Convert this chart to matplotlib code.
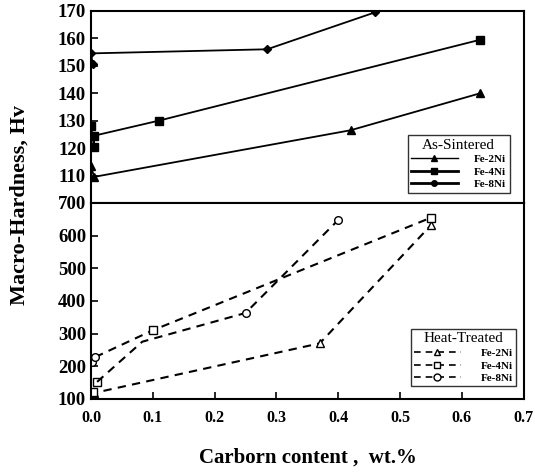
import matplotlib
matplotlib.use("Agg")
import matplotlib.pyplot as plt
from matplotlib.lines import Line2D

plt.rcParams['font.family'] = ['Liberation Serif', 'DejaVu Serif']

# ---- As-Sintered data (top panel) ----
as_2ni_x = [0.0, 0.005, 0.42, 0.63]
as_2ni_y = [113.5, 109.5, 126.5, 140]
as_4ni_x = [0.0, 0.005, 0.005, 0.11, 0.63]
as_4ni_y = [128, 120.5, 124.5, 130, 159.5]
as_8ni_x = [0.003, 0.0, 0.285, 0.46]
as_8ni_y = [150.5, 154.5, 156, 169.5]

# ---- Heat-Treated data (bottom panel) ----
ht_2ni_x = [0.002, 0.005, 0.37, 0.55]
ht_2ni_y = [104, 118, 270, 632]
ht_4ni_x = [0.003, 0.01, 0.1, 0.55]
ht_4ni_y = [122, 152, 310, 655]
ht_4ni_line_x = [0.007, 0.1, 0.55]
ht_4ni_line_y = [228, 310, 655]
ht_8ni_x = [0.002, 0.007, 0.25, 0.40]
ht_8ni_y = [212, 228, 363, 648]
ht_8ni_line_x = [0.01, 0.083, 0.25, 0.40]
ht_8ni_line_y = [152, 275, 363, 648]

x_ticks = [0.0, 0.1, 0.2, 0.3, 0.4, 0.5, 0.6, 0.7]
top_yticks = [110, 120, 130, 140, 150, 160, 170]
bot_yticks = [100, 200, 300, 400, 500, 600, 700]
series_names = ['Fe-2Ni', 'Fe-4Ni', 'Fe-8Ni']

fig = plt.figure(figsize=(5.35, 4.72), dpi=100)
L, R = 0.170, 0.979
ax1 = fig.add_axes([L, 0.570, R - L, 0.977 - 0.570])
ax2 = fig.add_axes([L, 0.155, R - L, 0.570 - 0.155], sharex=ax1)

# top
ax1.plot(as_2ni_x, as_2ni_y, '-', color='black', lw=1.3, marker='^', ms=5.5)
ax1.plot(as_4ni_x, as_4ni_y, '-', color='black', lw=1.3, marker='s', ms=5.5)
ax1.plot(as_8ni_x, as_8ni_y, '-', color='black', lw=1.3, marker='D', ms=4.5)
ax1.set_ylim(100, 170)
ax1.set_yticks(top_yticks)

# bottom
dash = (0, (4, 3))
ax2.plot(ht_2ni_x, ht_2ni_y, color='black', lw=1.5, ls=dash, marker='^', ms=5.5,
         mfc='white', mec='black', mew=1)
ax2.plot(ht_4ni_line_x, ht_4ni_line_y, color='black', lw=1.5, ls=dash)
ax2.plot(ht_4ni_x, ht_4ni_y, ls='none', marker='s', ms=5.5, mfc='white', mec='black', mew=1)
ax2.plot(ht_8ni_line_x, ht_8ni_line_y, color='black', lw=1.5, ls=dash)
ax2.plot(ht_8ni_x, ht_8ni_y, ls='none', marker='o', ms=5.5, mfc='white', mec='black', mew=1)
ax2.set_ylim(100, 700)
ax2.set_yticks(bot_yticks)
ax2.set_xlim(0.0, 0.7)
ax2.set_xticks(x_ticks)
ax2.set_xticklabels([f"{v:.1f}" for v in x_ticks])

for ax in (ax1, ax2):
    ax.tick_params(direction='in', length=5, width=1.2, labelsize=13.5)
    for lab in ax.get_yticklabels():
        lab.set_fontweight('bold')
    for s in ax.spines.values():
        s.set_linewidth(1.5)
ax1.tick_params(axis='x', bottom=False, labelbottom=False)
for lab in ax2.get_xticklabels():
    lab.set_fontweight('bold')
    lab.set_fontsize(11.5)
ax2.tick_params(axis='x', pad=8)

# legends
h_as = [Line2D([], [], color='black', lw=1.0, marker='^', ms=5),
        Line2D([], [], color='black', lw=2.0, marker='s', ms=5),
        Line2D([], [], color='black', lw=2.0, marker='o', ms=4)]
leg1 = ax1.legend(h_as, series_names, title='As-Sintered', loc='lower right',
                  bbox_to_anchor=(0.98, 0.025), frameon=True, fancybox=False,
                  edgecolor='black', handlelength=4.2, handletextpad=1.5,
                  borderpad=0.3, labelspacing=0.25, prop={'size': 8, 'weight': 'bold'},
                  title_fontsize=11)
leg1.get_frame().set_linewidth(1.0)

h_ht = [Line2D([], [], color='black', lw=1.2, ls=(0, (4, 3)), marker='^', ms=5, mfc='white'),
        Line2D([], [], color='black', lw=1.2, ls=(0, (4, 3)), marker='s', ms=5, mfc='white'),
        Line2D([], [], color='black', lw=1.2, ls=(0, (4, 3)), marker='o', ms=5, mfc='white')]
leg2 = ax2.legend(h_ht, series_names, title='Heat-Treated', loc='lower right',
                  bbox_to_anchor=(0.995, 0.035), frameon=True, fancybox=False,
                  edgecolor='black', handlelength=4.2, handletextpad=1.8,
                  borderpad=0.3, labelspacing=0.25, prop={'size': 8, 'weight': 'bold'},
                  title_fontsize=11)
leg2.get_frame().set_linewidth(1.0)

fig.text(0.036, 0.566, 'Macro-Hardness, Hv', rotation=90, ha='center', va='center',
         fontsize=16, fontweight='bold')
fig.text(0.575, 0.030, 'Carborn content ,  wt.%', ha='center', va='center',
         fontsize=15, fontweight='bold')

fig.savefig('out.png', dpi=100)
